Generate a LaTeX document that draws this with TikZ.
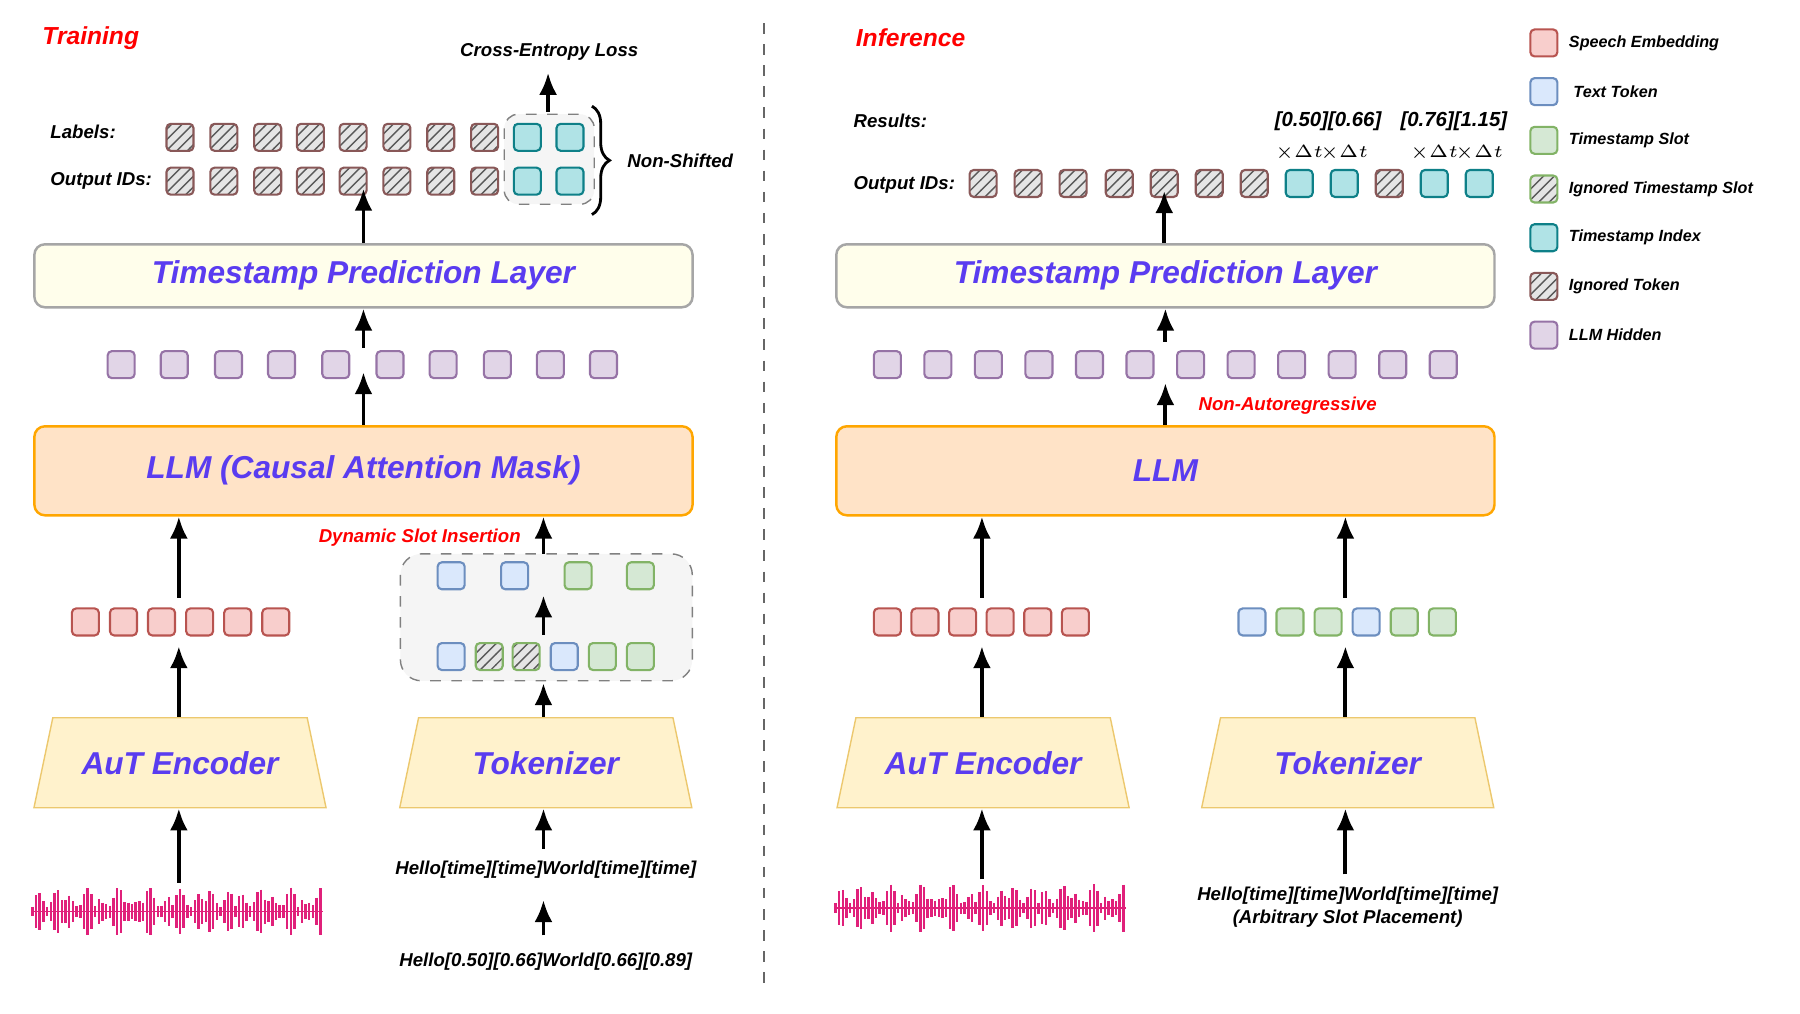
\documentclass[tikz,border=0pt]{standalone}
\usepackage{fontspec}
\setmainfont{Liberation Sans}
\usepackage{amsmath}
\usetikzlibrary{arrows.meta,shapes.geometric,patterns,decorations.pathreplacing}
\definecolor{ttl}{HTML}{5A3CF0}
\definecolor{wave}{HTML}{E0207A}
\tikzset{
    tok/.style={draw,rounded corners=1.2pt,line width=0.6pt,minimum size=2.7mm,inner sep=0pt},
    sp/.style={tok,fill={rgb,255:red,248;green,206;blue,204},draw={rgb,255:red,184;green,84;blue,80}},
    tx/.style={tok,fill={rgb,255:red,218;green,232;blue,252},draw={rgb,255:red,108;green,142;blue,191}},
    ts/.style={tok,fill={rgb,255:red,213;green,232;blue,212},draw={rgb,255:red,130;green,179;blue,102}},
    ix/.style={tok,fill={rgb,255:red,176;green,227;blue,230},draw={rgb,255:red,14;green,128;blue,136}},
    hd/.style={tok,fill={rgb,255:red,225;green,213;blue,231},draw={rgb,255:red,150;green,115;blue,166}},
    ign/.style={tok,draw=gray!60!red!60!black!80,preaction={fill=gray!20},pattern=north east lines,pattern color=gray!70!black},
    ignts/.style={ign,draw={rgb,255:red,130;green,179;blue,102}},
    arr/.style={-{Latex[length=2.2mm,width=1.8mm]},line width=1.1pt},
    layer/.style={draw=gray!70,rounded corners=3pt,line width=0.7pt,minimum height=6.3mm,font=\fontsize{9}{11}\selectfont\bfseries\itshape,text=ttl},
    trap/.style={trapezium,trapezium angle=68,trapezium stretches body,minimum width=29.2mm,minimum height=9mm,fill={rgb,255:red,255;green,242;blue,204},draw={rgb,255:red,236;green,200;blue,110},font=\fontsize{9}{11}\selectfont\bfseries\itshape,text=ttl},
    lab/.style={font=\fontsize{5.3}{6.5}\selectfont\bfseries\itshape},
    red lab/.style={lab,text=red},
    head/.style={font=\fontsize{7}{9}\selectfont\bfseries\itshape,text=red,anchor=west},
    leg/.style={font=\fontsize{4.6}{6}\selectfont\bfseries\itshape,anchor=west}
}
\newcommand{\waveform}[2]{%
    \foreach \k in {0,...,78} {
        \pgfmathsetmacro{\hh}{4+17*abs(sin(\k*137.5))*abs(cos(\k*23))}
        \draw[wave,line width=0.7pt] (#1+\k*3.2,#2-\hh) -- (#1+\k*3.2,#2+\hh);
    }
    \draw[wave,line width=0.5pt] (#1,#2) -- (#1+252,#2);
}
\begin{document}
\begin{tikzpicture}[x=0.011538cm,y=-0.011538cm]
    \useasboundingbox (0,0) rectangle (1560,878);
    \draw[dashed,gray!80!black,line width=0.6pt] (662,20) -- (662,858);

    % ---------------- training ----------------
    \node[head] (trn) at (26,33) {Training};
    \node[layer,fill=yellow!8,minimum width=65.8mm] (tplL) at (315,239) {Timestamp Prediction Layer};
    \node[layer,fill=orange!22,draw=orange!70!yellow,minimum width=65.8mm,minimum height=8.9mm] (llmL) at (315,408) {LLM (Causal Attention Mask)};
    \foreach \x [count=\i] in {105,151,198,244,291,338,384,431,477,523}
        \node[hd] (hL\i) at (\x,316) {};
    \node[lab,anchor=west] (labL) at (33,114) {Labels:};
    \node[lab,anchor=west] (outL) at (33,157) {Output IDs:};
    \foreach \x [count=\i] in {156,194,232,269,306,344,382,420} {
        \node[ign] (lb\i) at (\x,119) {};
        \node[ign] (oi\i) at (\x,157) {};
    }
    \draw[dashed,gray,rounded corners=4pt,fill=gray!8] (437,99) rectangle (515,177);
    \foreach \x [count=\i] in {457,494} {
        \node[ix] (lbc\i) at (\x,119) {};
        \node[ix] (oic\i) at (\x,157) {};
    }
    \draw[decorate,decoration={brace,amplitude=5pt},line width=0.8pt] (513,92) -- (513,186);
    \node[lab,anchor=west] (nsh) at (533,139) {Non-Shifted};
    \node[lab] (cel) at (476,45) {Cross-Entropy Loss};
    \coordinate (ceS) at (475,97);
    \draw[arr] (ceS) -- (ceS |- cel.south);
    \draw[arr] (tplL.north) -- ([yshift=2pt]tplL.north |- oi5.south);
    \draw[arr] (tplL.north |- hL5.north) ++(0,-2) coordinate (hS) -- (hS |- tplL.south);
    \draw[arr] (hS |- llmL.north) -- ([yshift=2pt]hS |- hL5.south);

    \foreach \x [count=\i] in {74,107,140,173,206,239}
        \node[sp] (sL\i) at (\x,539) {};
    \node[trap] (autL) at (156,661) {AuT Encoder};
    \node[trap] (tkL) at (473,661) {Tokenizer};
    \draw[arr] (autL.north -| 155,0) -- (155,560);
    \draw[arr] (155,518) -- (llmL.south -| 155,0);
    \waveform{28}{790}
    \draw[arr] (155,765) -- (autL.south -| 155,0);

    \draw[dashed,gray,rounded corners=6pt,fill=gray!8] (347,480) rectangle (600,590);
    \foreach \x/\s [count=\i] in {391/tx,446/tx,501/ts,555/ts}
        \node[\s] (dT\i) at (\x,499) {};
    \foreach \x/\s [count=\i] in {391/tx,424/ignts,456/ignts,489/tx,522/ts,555/ts}
        \node[\s] (dB\i) at (\x,569) {};
    \draw[arr] (471,550) -- (471,516);
    \draw[arr] (tkL.north -| 471,0) -- (471,592);
    \draw[arr] (471,480) -- (llmL.south -| 471,0);
    \node[red lab,anchor=east] (dsi) at (462,466) {Dynamic Slot Insertion};
    \node[lab] (tmL) at (473,754) {Hello[time][time]World[time][time]};
    \node[lab] (rawL) at (473,833) {Hello[0.50][0.66]World[0.66][0.89]};
    \draw[arr] (tmL.north -| 471,0) -- (tkL.south -| 471,0);
    \draw[arr] (rawL.north -| 471,0) ++(0,-4) -- (471,780);

    % ---------------- inference ----------------
    \node[head] (inf) at (731,33) {Inference};
    \node[layer,fill=yellow!8,minimum width=65.8mm] (tplR) at (1010,239) {Timestamp Prediction Layer};
    \node[layer,fill=orange!22,draw=orange!70!yellow,minimum width=65.8mm,minimum height=8.9mm] (llmR) at (1010,408) {LLM};
    \foreach \i in {0,...,11}
        \node[hd] (hR\i) at (769+\i*43.8,316) {};
    \node[lab,anchor=west] (resR) at (729,105) {Results:};
    \node[lab,anchor=west] (outR) at (729,160) {Output IDs:};
    \foreach \x/\s [count=\i] in {852/ign,891/ign,930/ign,970/ign,1009/ign,1048/ign,1087/ign,1126/ix,1165/ix,1204/ign,1243/ix,1282/ix}
        \node[\s] (oR\i) at (\x,159) {};
    \foreach \i in {8,9,11,12}
        \node[font=\fontsize{5.5}{7}\selectfont,anchor=south] (dt\i) at ([yshift=-1pt]oR\i.north) {$\times\Delta t$};
    \node[lab,font=\fontsize{5.8}{7}\selectfont\bfseries\itshape] (r1) at (1151,105) {[0.50][0.66]};
    \node[lab,font=\fontsize{5.8}{7}\selectfont\bfseries\itshape] (r2) at (1260,105) {[0.76][1.15]};
    \draw[arr] (tplR.north -| oR5) -- ([yshift=2pt]oR5.south);
    \draw[arr] (1010,296) -- (tplR.south -| 1010,0);
    \draw[arr] (llmR.north -| 1010,0) -- (1010,332);
    \node[red lab,anchor=west] (nar) at (1028,352) {Non-Autoregressive};

    \foreach \i in {0,...,5}
        \node[sp] (sR\i) at (769+\i*32.6,539) {};
    \foreach \s [count=\i] in {tx,ts,ts,tx,ts,ts}
        \node[\s] (tR\i) at (1052+\i*33,539) {};
    \node[trap] (autR) at (852,661) {AuT Encoder};
    \node[trap] (tkR) at (1168,661) {Tokenizer};
    \draw[arr] (autR.north -| 851,0) -- (851,560);
    \draw[arr] (851,518) -- (llmR.south -| 851,0);
    \draw[arr] (tkR.north -| 1166,0) -- (1166,560);
    \draw[arr] (1166,518) -- (llmR.south -| 1166,0);
    \waveform{724}{787}
    \draw[arr] (851,762) -- (autR.south -| 851,0);
    \node[lab,align=center] (tmR) at (1168,786) {Hello[time][time]World[time][time]\\(Arbitrary Slot Placement)};
    \draw[arr] (tmR.north -| 1166,0) -- (tkR.south -| 1166,0);

    % ---------------- legend ----------------
    \foreach \s/\t [count=\i] in {sp/Speech Embedding,tx/{\ Text Token},ts/Timestamp Slot,ignts/Ignored Timestamp Slot,ix/Timestamp Index,ign/Ignored Token,hd/LLM Hidden} {
        \node[\s] (lg\i) at (1338,-5+\i*42.2) {};
        \node[leg] (lt\i) at (1349,-5+\i*42.2) {\t};
    }
\end{tikzpicture}
\end{document}
